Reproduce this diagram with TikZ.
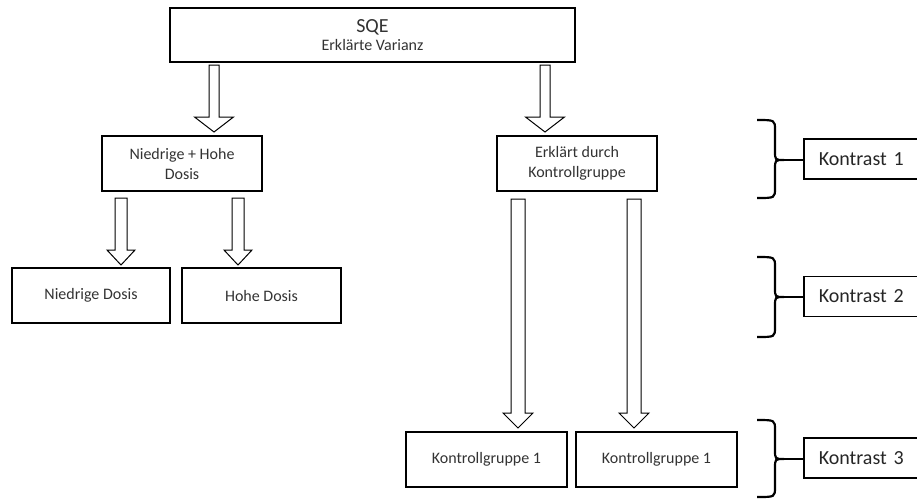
\documentclass[tikz,border=0pt]{standalone}
\usepackage{fontspec}
\setmainfont{Carlito}
\usetikzlibrary{calc}
\tikzset{
  box/.style={draw=black, line width=1.6pt, fill=white, align=center, inner sep=2pt,
    font=\fontsize{16}{20}\selectfont, text=black!80},
  kbox/.style={draw=black, line width=1.6pt, fill=white, align=left, anchor=west,
    text width=92pt, inner xsep=15pt, minimum height=40pt,
    font=\fontsize{20}{24}\selectfont, text=black!85},
  barrow/.style={draw=black, line width=1pt, fill=white, line join=miter},
  bracestyle/.style={draw=black, line width=2.2pt, line cap=butt},
  link/.style={draw=black, line width=2pt}
}
\newcommand{\blockarrow}[4]{%
  \draw[barrow] ($(#1)+(-#3,0)$) -- ($(#2)+(-#3,-15)$) -- ($(#2)+(-#4,-15)$) -- (#2)
    -- ($(#2)+(#4,-15)$) -- ($(#2)+(#3,-15)$) -- ($(#1)+(#3,0)$) -- cycle;}
\newcommand{\kbrace}[4]{%
  \draw[bracestyle] (757,#1) .. controls (775,#1) .. (775,{#1+10}) -- (775,{#3-9})
    .. controls (775,#3) .. (784,#3) .. controls (775,#3) .. (775,{#3+9})
    -- (775,{#2-10}) .. controls (775,#2) .. (757,#2);
  \coordinate (#4) at (783,#3);}
\begin{document}
\begin{tikzpicture}[x=1pt, y=-1pt]
\useasboundingbox (0,0) rectangle (917,499);
\clip (0,0) rectangle (917,499);
\fill[white] (0,0) rectangle (917,499);

% boxes
\node[box, minimum width=405pt, minimum height=54pt] (top) at (372.5,35)
  {{\fontsize{20}{22}\selectfont SQE}\\[-2pt]Erklärte Varianz};
\node[box, minimum width=160pt, minimum height=55pt] (nh) at (182,163.5) {Niedrige + Hohe\\Dosis};
\node[box, minimum width=160pt, minimum height=55pt] (ek) at (577,163.5) {Erklärt durch\\Kontrollgruppe};
\node[box, minimum width=158pt, minimum height=55pt] (nd) at (91,295.5) {Niedrige Dosis};
\node[box, minimum width=159pt, minimum height=55pt] (hd) at (261.5,295.5) {Hohe Dosis};
\node[box, minimum width=161pt, minimum height=55pt] (kg1) at (486.5,459.5) {Kontrollgruppe 1};
\node[box, minimum width=161pt, minimum height=55pt] (kg2) at (656.5,459.5) {Kontrollgruppe 1};

% arrow end points
\coordinate (a1s) at (214,65);  \coordinate (a1e) at (214,132);
\coordinate (a2s) at (545,65);  \coordinate (a2e) at (545,132);
\coordinate (a3s) at (121,198); \coordinate (a3e) at (121,265);
\coordinate (a4s) at (238,198); \coordinate (a4e) at (238,265);
\coordinate (a5s) at (518,199); \coordinate (a5e) at (518,428);
\coordinate (a6s) at (634,199); \coordinate (a6e) at (634,428);

\blockarrow{a1s}{a1e}{5}{19.5}
\blockarrow{a2s}{a2e}{5}{19.5}
\blockarrow{a3s}{a3e}{6}{14}
\blockarrow{a4s}{a4e}{6}{14}
\blockarrow{a5s}{a5e}{7}{15}
\blockarrow{a6s}{a6e}{7}{15}

% contrasts
\node[kbox] (k1) at (803,159) {Kontrast 1};
\node[kbox] (k2) at (803,296.5) {Kontrast 2};
\node[kbox] (k3) at (803,458) {Kontrast 3};

\kbrace{120}{198}{160}{b1}
\kbrace{257}{337}{297}{b2}
\kbrace{420}{497}{459}{b3}

\draw[link] (b1) -- (b1 -| k1.west);
\draw[link] (b2) -- (b2 -| k2.west);
\draw[link] (b3) -- (b3 -| k3.west);
\end{tikzpicture}
\end{document}
